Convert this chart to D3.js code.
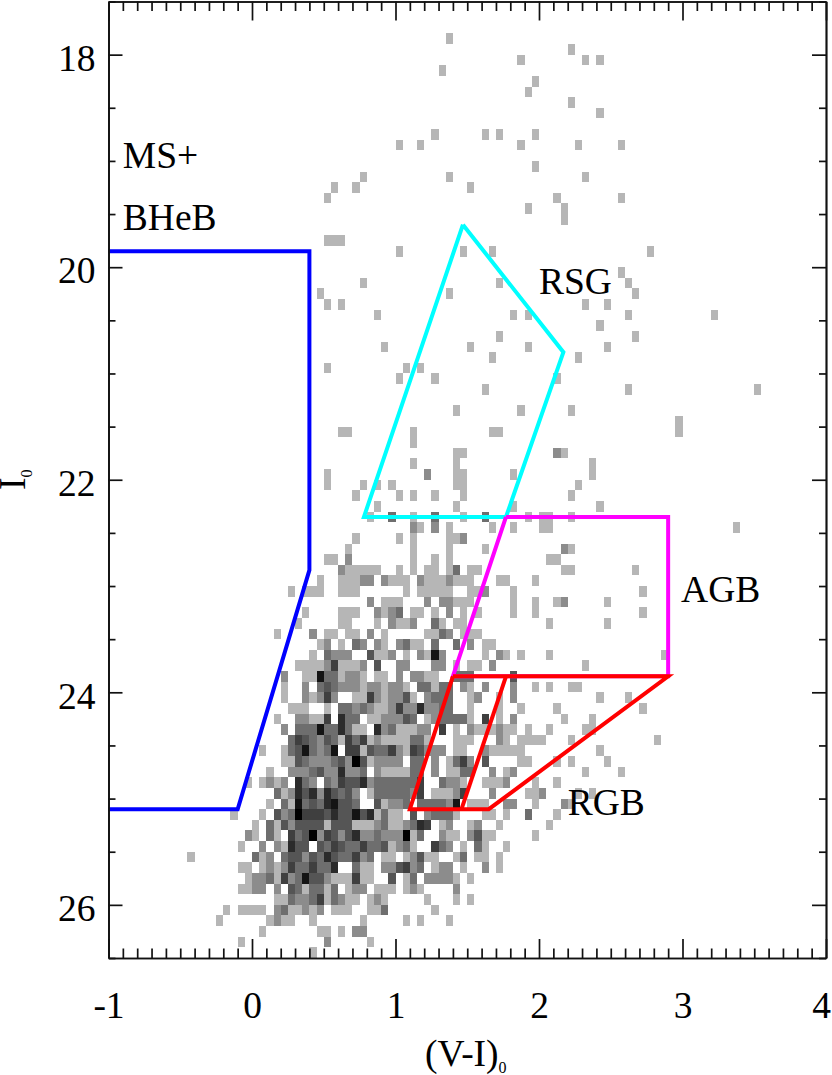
<!DOCTYPE html>
<html>
<head>
<meta charset="utf-8">
<style>html,body{margin:0;padding:0;background:#fff}svg{display:block}</style>
<script src="https://cdn.jsdelivr.net/npm/d3@7"></script>
</head>
<body>
<div id="chart"></div>
<script>
// Hess-diagram bins: colour starts at -1 with bins of 0.05, magnitude starts at 17.5 with bins of 0.1.
const colourBinStart = -1, colourBinSize = 0.05;
const magBinStart = 17.5, magBinSize = 0.1;

// Each entry: magnitude-bin index, then "colourBinIndex:counts" runs (one digit per adjacent bin).
const hessRows = [
[3,"47:1"],[4,"64:1"],[5,"57:1 66:1 68:1"],[6,"46:1"],[7,"59:1"],[8,"58:1"],[9,"64:1"],[10,"68:1"],
[12,"45:1 52:1 54:1 59:1"],[13,"40:1 43:1 57:1 65:1 71:1"],[15,"59:1"],[16,"35:1 47:1 66:1"],
[17,"31:1 34:1 50:1"],[18,"30:1 62:1 71:1"],[19,"58:1 63:1"],[20,"63:1"],[22,"30:111"],
[23,"40:1 49:1 53:1 75:1"],[25,"71:1"],[26,"35:1 54:1 72:1"],[27,"29:1 47:1 73:1"],
[28,"30:1 32:1 66:1 69:1"],[29,"37:1 56:1 58:1 72:1 84:1"],[30,"68:1"],[31,"54:1 73:1"],
[32,"38:1 50:1 58:1 69:1"],[33,"53:1 65:1"],[34,"30:1 41:1 43:1"],[35,"40:1 45:1 62:1"],
[36,"52:1 72:1 90:1"],[38,"48:1 57:1 64:1"],[39,"79:1"],[40,"32:11 42:1 53:11 79:1"],[41,"42:1"],
[42,"48:11 62:21"],[43,"42:1 48:1 67:1"],[44,"30:1 44:2 48:11 56:1 67:1"],
[45,"30:1 35:1 37:1 39:1 48:11 65:1"],[46,"34:1 40:1 42:1 45:1 49:1 64:1"],[47,"37:1 48:1 56:1 68:1"],
[48,"36:1 39:3 42:1 45:3 49:1 52:3 58:1 60:11 64:1"],[49,"42:21 45:2 47:1 53:1 56:1 60:11 87:1"],
[50,"34:1 40:1 42:1 47:11 49:2"],[51,"33:1 42:1 47:1 52:1 63:21"],[52,"30:11 33:2 42:1 45:1 47:1 61:11"],
[53,"32:2 33:11111 40:1 42:1 44:11 47:1 48:3 50:11 63:11 73:1"],
[54,"29:1 32:111 35:22 38:2 39:11 41:1 43:2 44:111 47:2 48:111 54:11 59:1"],
[55,"25:1 27:111 32:111 41:1 43:11111 50:11 52:2 56:1 74:1"],
[56,"36:2 38:111 44:2 46:22 48:111 56:1 59:1 62:12 69:1"],
[57,"27:1 32:111 37:2 38:1 39:2 40:3 42:11 45:1 47:2 49:1 51:1 56:1 59:1 74:1"],
[58,"26:1 32:11 37:1 39:2 40:11 42:2 45:3 46:1 48:11 61:1 69:1"],
[59,"23:1 28:2 30:11 33:11 36:2 38:1 44:11 46:32 49:111"],
[60,"29:12 32:1 34:32 37:21 40:23 42:11 45:3 48:3 50:2 52:11"],
[61,"28:1 30:3 31:222 36:4 37:11 39:2 41:1 43:21 45:72 52:1 54:21 57:1 61:1 77:1"],
[62,"26:1111 30:2 31:5 32:111 35:2 37:4 40:22 45:22 48:1 50:11 53:2 66:1"],
[63,"24:2 27:11 29:7 30:33 32:1 33:22 35:1 37:11 40:2 42:22 44:11 48:3 49:33 56:4"],
[64,"24:1 27:2 29:3 30:4 31:3 32:222 35:1 36:22 38:1 39:22 41:1 43:33 45:1 46:33 49:21 52:2 56:2 59:1 61:1 64:11"],
[65,"24:1 27:21 29:2 30:5 31:2 34:11 36:5 37:2 38:1 39:22 41:4 42:1 44:23 46:33 50:12 54:1 56:2 68:1 72:1"],
[66,"25:111 30:1 32:33 34:2 35:3 36:2 37:11 39:2 40:5 41:22 43:6 44:22 46:33 50:1 54:1 57:1 62:1 74:1"],
[67,"23:1 26:22 28:11 30:5 32:6 33:3 34:3 36:11 38:22 40:2 41:4 42:3 44:12 46:3333 50:1 52:5 54:1 56:2 63:1 67:1"],
[68,"24:2 26:333 29:7 30:33 32:6 33:3 34:11 37:6 38:2 39:3 40:1 41:11 43:22 46:5 48:1 50:21 52:11 54:2 55:11 58:1 61:1 66:11"],
[69,"25:35432 30:4 31:3 32:1 33:5 34:3 35:5 36:1 37:2 38:11 40:1 41:1 42:33 44:1 48:11 50:1 54:2 55:1 57:1111 64:1 76:1"],
[70,"21:1 24:1 25:3 26:4 27:7 28:3 29:2 30:3 31:7 33:55 35:1 36:4 37:33 39:5 40:2 41:1 42:5 43:4 44:2 45:22 48:11 52:2 53:11111 68:1"],
[71,"24:11 26:4 27:3 28:222 31:3 32:4 33:2 34:8 35:4 36:1 37:222 40:2 42:33 45:2 47:1 48:3 49:5 50:2 52:4 57:11 62:1 64:1 69:1"],
[72,"22:1 25:222 28:3 29:4 30:2 31:2 32:6 33:22 35:3 37:2 38:1 39:11 41:1 42:33 45:2 47:11 49:33 53:2 55:1 56:2 66:1 71:1"],
[73,"19:1 21:1 22:2 23:1 24:2 26:6 27:3 28:2 30:3 31:2 32:5 33:44 35:6 36:2 37:3333 41:33 43:5 46:3 47:22 49:1 52:111 55:2 59:1 62:1"],
[74,"23:3 24:1 25:2 26:6 27:4 28:6 29:2 30:6 31:4 32:3 33:4 34:2 36:1 37:3333 41:3 42:2 43:5 45:111 48:2 49:5 53:2 58:11 60:2 65:1 67:1"],
[75,"22:1 24:3 25:1 26:7 27:3 28:4 29:3 30:6 31:7 32:44 34:3 37:4 38:1 39:22 41:3 43:33 45:33 47:2 48:7 50:111 55:22 59:1 63:21"],
[76,"17:1 21:1 23:4 24:2 25:3 26:8 27:5 28:55 30:4 31:6 32:44 34:7 35:4 36:6 37:1 38:3 39:1 40:1 42:4 44:2 45:333 48:1 52:11 55:1 58:3 62:1"],
[77,"20:1 22:3 23:1 24:4 25:2 26:4444 30:1 31:444 34:111 37:2 38:3 39:1 40:1 41:2 42:3 43:6 44:5 46:1 47:2 50:1 51:2 54:1 61:1"],
[78,"19:2 20:1 22:3 23:1 25:5 26:3 27:4 28:8 29:2 30:5 31:4 32:2 33:4 34:6 35:22 37:3 38:2 39:2 40:2 41:8 42:1 43:3 46:2 47:11 50:2 51:4 52:11 59:1"],
[79,"18:1 21:2 23:2 24:1 25:6 26:44 29:4 30:3 31:5 32:4 33:33 35:5 36:3 37:3 38:4 39:1 40:2 41:3 42:1 45:5 46:3 47:2 49:1 51:3 52:1 55:1"],
[80,"11:1 20:3 21:1 22:2 24:3 25:4 26:4 27:2 28:4 29:3 30:6 31:4 32:33 34:5 35:2 36:3 38:1 39:1 41:1 42:2 43:4 44:11 48:1 49:3 51:11 54:1"],
[81,"18:11 21:1 22:2 23:1 24:2 25:5 26:33 28:5 29:33 31:6 34:3 35:11 38:22 40:4 41:5 42:2 43:3 45:1 46:22 49:1 52:2 54:1"],
[82,"19:1 20:22 22:3 23:1 24:5 25:2 26:3 27:7 28:44 30:2 31:111 34:5 35:11 39:4 41:1 42:3 44:2222 48:1 50:1"],
[83,"18:11 20:22 23:2 25:4 26:3 27:1 28:33 30:1 31:3 33:1 34:22 37:1 38:11 41:1 42:2 43:1 48:2"],
[84,"23:11 25:3 26:22 28:3 29:5 30:1 31:3 32:2 33:11 36:1 37:2 38:1 44:1 48:1 50:1"],
[85,"16:1 18:1111 23:2 24:3 25:11 27:2 28:1 29:2 31:111 36:11 38:3 45:1"],
[86,"15:1 22:1 23:2 24:11 28:1 35:1 41:1 43:1 47:1"],
[87,"21:1 29:11 32:1 34:22"],[88,"18:1 30:2 36:1"],[89,"28:1"]
];

// CMD selection regions, [V-I, I]
const msBheb = [[-1,19.85],[0.4,19.85],[0.4,22.85],[-0.1,25.1],[-1,25.1]];
const rsgBox = [[1.47,19.6],[2.17,20.8],[1.77,22.35],[0.78,22.35],[1.47,19.6]];
const agbBox = [[1.77,22.35],[2.9,22.35],[2.9,23.85],[1.4,23.85],[1.77,22.35]];
const rgbBox = [[1.4,23.85],[2.9,23.85],[1.65,25.1],[1.1,25.1],[1.4,23.85]];
const rgbDivider = [[1.77,23.85],[1.46,25.1]];

const xDomain = [-1,4], yDomain = [17.5,26.5];
const xMajorTicks = [-1,0,1,2,3,4];
const yMajorTicks = [18,20,22,24,26];
const regionLabels = [
  ["MS+",-0.9,19.07],["BHeB",-0.9,19.65],["RSG",2.0,20.25],
  ["AGB",2.99,23.15],["RGB",2.2,25.15]
];

const chartW = 832, chartH = 1075;
const plotL = 108.5, plotR = 826, plotT = 1.5, plotB = 958;
const serif = '"Liberation Serif","Times New Roman",serif';
const bigFont = 37.5, subFont = 16;

const xScale = d3.scaleLinear().domain(xDomain).range([plotL,plotR]);
const yScale = d3.scaleLinear().domain(yDomain).range([plotT,plotB]);
const grey = d3.scaleLinear()
  .domain([1,2,3,4,5,6,7,8])
  .range(["#b6b6b6","#8c8c8c","#6e6e6e","#555555","#3f3f3f","#2b2b2b","#141414","#000000"]);

const cells = hessRows.flatMap(([row,runs]) => runs.split(" ").flatMap(run => {
  const [start,digits] = run.split(":");
  return Array.from(digits, (d,k) => ({col:+start+k,row,count:+d}));
})).filter(d => d.count>0);

const svg = d3.select("#chart").append("svg").attr("width",chartW).attr("height",chartH);
svg.append("rect").attr("width",chartW).attr("height",chartH).attr("fill","#fff");

svg.append("g").attr("shape-rendering","crispEdges").selectAll("rect").data(cells).join("rect")
  .attr("x",d => xScale(colourBinStart+d.col*colourBinSize))
  .attr("y",d => yScale(magBinStart+d.row*magBinSize))
  .attr("width",d => xScale(colourBinStart+(d.col+1)*colourBinSize)-xScale(colourBinStart+d.col*colourBinSize))
  .attr("height",d => yScale(magBinStart+(d.row+1)*magBinSize)-yScale(magBinStart+d.row*magBinSize))
  .attr("fill",d => grey(d.count));

const line = d3.line().x(d => xScale(d[0])).y(d => yScale(d[1]));
[[msBheb,"#0000ff"],[rsgBox,"#00ffff"],[agbBox,"#ff00ff"],[rgbBox,"#ff0000"],[rgbDivider,"#ff0000"]].forEach(([pts,c]) => {
  svg.append("path").attr("d",line(pts)).attr("fill","none").attr("stroke",c)
    .attr("stroke-width",4).attr("stroke-linejoin","miter").attr("stroke-linecap","butt");
});

// Axes
const xMinor = d3.range(-1,4.0001,0.1).map(v => +v.toFixed(1)).filter(v => !xMajorTicks.includes(v));
const yMinor = d3.range(17.5,26.5001,0.5).filter(v => !yMajorTicks.includes(v));
const none = () => "";
function addAxis(axis,tx,ty){
  const g = svg.append("g").attr("transform",`translate(${tx},${ty})`).call(axis);
  g.selectAll("path,line").attr("stroke","#111").attr("stroke-width",1.7);
  g.selectAll("text").attr("font-family",serif).attr("font-size",bigFont).attr("fill","#000");
  return g;
}
addAxis(d3.axisBottom(xScale).tickValues(xMinor).tickFormat(none).tickSizeInner(-9.5).tickSizeOuter(0),0,plotB);
const xAxisG = addAxis(d3.axisBottom(xScale).tickValues(xMajorTicks).tickFormat(String).tickSizeInner(-19).tickSizeOuter(0).tickPadding(33),0,plotB);
xAxisG.selectAll("text").filter(d => d===4).attr("dx",-5);
addAxis(d3.axisTop(xScale).tickValues(xMinor).tickFormat(none).tickSizeInner(-9.5).tickSizeOuter(0),0,plotT);
addAxis(d3.axisTop(xScale).tickValues(xMajorTicks).tickFormat(none).tickSizeInner(-19).tickSizeOuter(0),0,plotT);
addAxis(d3.axisLeft(yScale).tickValues(yMinor).tickFormat(none).tickSizeInner(-7).tickSizeOuter(0),plotL,0);
const yAxisG = addAxis(d3.axisLeft(yScale).tickValues(yMajorTicks).tickFormat(String).tickSizeInner(-14).tickSizeOuter(0).tickPadding(13),plotL,0);
yAxisG.selectAll("text").attr("dy","0.42em");
addAxis(d3.axisRight(yScale).tickValues(yMinor).tickFormat(none).tickSizeInner(-7).tickSizeOuter(0),plotR,0);
addAxis(d3.axisRight(yScale).tickValues(yMajorTicks).tickFormat(none).tickSizeInner(-14).tickSizeOuter(0),plotR,0);

// Region labels
svg.append("g").selectAll("text").data(regionLabels).join("text")
  .attr("x",d => xScale(d[1])).attr("y",d => yScale(d[2]))
  .attr("font-family",serif).attr("font-size",bigFont).attr("fill","#000")
  .text(d => d[0]);

// Axis titles
const xTitle = svg.append("text").attr("x",425).attr("y",1066)
  .attr("font-family",serif).attr("font-size",bigFont).attr("fill","#000");
xTitle.append("tspan").text("(V-I)");
xTitle.append("tspan").attr("font-size",subFont).attr("dy",7).text("0");

const yTitle = svg.append("text").attr("transform","translate(25,490) rotate(-90)")
  .attr("font-family",serif).attr("font-size",bigFont).attr("fill","#000");
yTitle.append("tspan").text("I");
yTitle.append("tspan").attr("font-size",subFont).attr("dy",7).text("0");
</script>
</body>
</html>
